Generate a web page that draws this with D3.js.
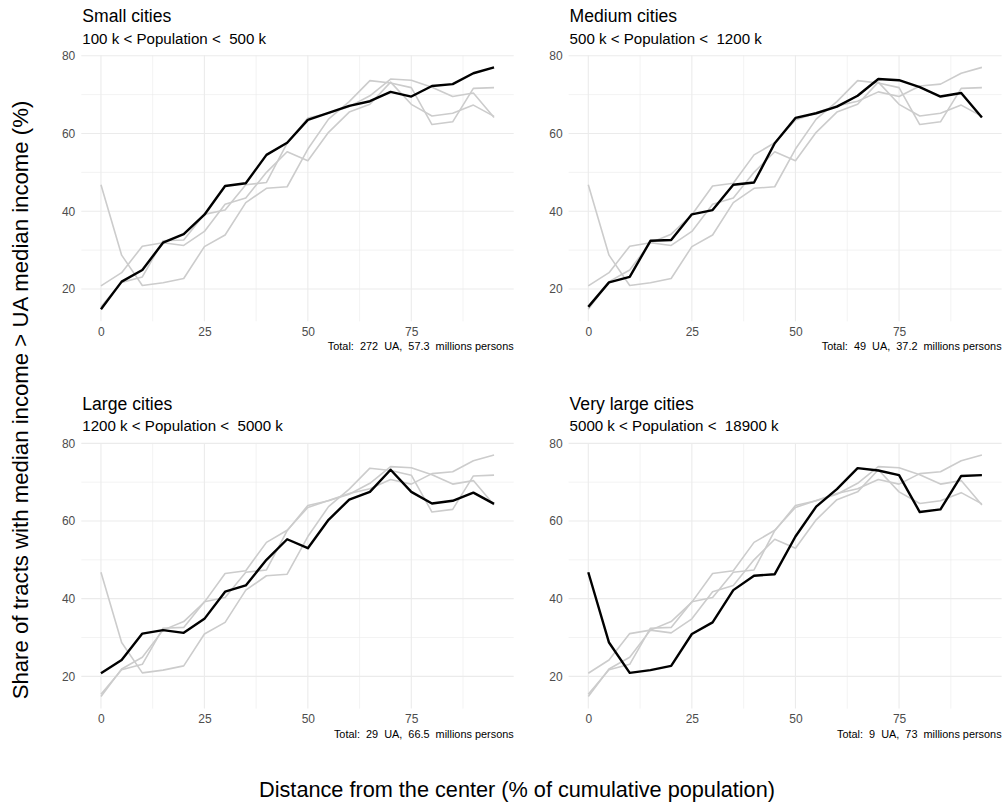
<!DOCTYPE html>
<html><head><meta charset="utf-8">
<script src="https://cdn.jsdelivr.net/npm/d3@7"></script>
<style>
body{margin:0;background:#fff;}
text{font-family:"Liberation Sans",Arial,sans-serif;white-space:pre;}
</style></head>
<body><svg id="chart" width="1004" height="805"></svg>
<script>
const distance = [0,5,10,15,20,25,30,35,40,45,50,55,60,65,70,75,80,85,90,95];
const small =    [14.8,21.9,24.9,31.9,34.1,39.1,46.5,47.2,54.5,57.6,63.5,65.3,67.1,68.3,70.7,69.5,72.2,72.7,75.5,77.0];
const medium =   [15.4,21.7,23.1,32.4,32.6,39.2,40.3,46.8,47.4,57.5,64.0,65.2,66.9,69.7,74.0,73.7,71.9,69.5,70.4,64.1];
const large =    [20.8,24.2,31.0,31.9,31.2,34.8,41.8,43.4,50.0,55.3,53.0,60.3,65.5,67.5,73.2,67.5,64.5,65.2,67.3,64.4];
const veryLarge =[46.8,28.7,20.9,21.6,22.7,30.9,33.9,42.2,45.9,46.3,56.0,63.7,68.2,73.6,73.0,71.8,62.3,63.0,71.6,71.8];
const titles = ["Small cities","Medium cities","Large cities","Very large cities"];
const subtitles = ["100 k < Population <  500 k","500 k < Population <  1200 k","1200 k < Population <  5000 k","5000 k < Population <  18900 k"];
const captions = ["Total:  272  UA,  57.3  millions persons","Total:  49  UA,  37.2  millions persons","Total:  29  UA,  66.5  millions persons","Total:  9  UA,  73  millions persons"];
const xTicks = [0,25,50,75];
const yTicks = [20,40,60,80];

const series = [small, medium, large, veryLarge];
const svg = d3.select("#chart");

const panels = [
  {x0:81.3, x1:513.7, y0:55.3, y1:321.3},
  {x0:568.6, x1:1001.6, y0:55.3, y1:321.3},
  {x0:81.3, x1:513.7, y0:442.9, y1:708.6},
  {x0:568.6, x1:1001.6, y0:442.9, y1:708.6}
];

const allY = series.flat();
const [ymin, ymax] = d3.extent(allY);
const yPad = (ymax - ymin) * 0.05;
const [xmin, xmax] = d3.extent(distance);
const xPad = (xmax - xmin) * 0.05;
const FONT = "'Liberation Sans',Arial,sans-serif";

panels.forEach((p, i) => {
  const x = d3.scaleLinear().domain([xmin - xPad, xmax + xPad]).range([p.x0, p.x1]);
  const y = d3.scaleLinear().domain([ymin - yPad, ymax + yPad]).range([p.y1, p.y0]);
  const g = svg.append("g");
  const xMinor = [12.5, 37.5, 62.5, 87.5];
  const yMinor = [30,50,70];
  g.selectAll(".vminor").data(xMinor).join("line")
    .attr("x1", d=>x(d)).attr("x2", d=>x(d)).attr("y1", p.y0).attr("y2", p.y1)
    .attr("stroke", "#ebebeb").attr("stroke-width", 0.6);
  g.selectAll(".hminor").data(yMinor).join("line")
    .attr("y1", d=>y(d)).attr("y2", d=>y(d)).attr("x1", p.x0).attr("x2", p.x1)
    .attr("stroke", "#ebebeb").attr("stroke-width", 0.6);
  g.selectAll(".vmajor").data(xTicks).join("line")
    .attr("x1", d=>x(d)).attr("x2", d=>x(d)).attr("y1", p.y0).attr("y2", p.y1)
    .attr("stroke", "#ebebeb").attr("stroke-width", 1.1);
  g.selectAll(".hmajor").data(yTicks).join("line")
    .attr("y1", d=>y(d)).attr("y2", d=>y(d)).attr("x1", p.x0).attr("x2", p.x1)
    .attr("stroke", "#ebebeb").attr("stroke-width", 1.1);

  const xAxis = g.append("g").attr("transform", `translate(0,${p.y1})`)
    .call(d3.axisBottom(x).tickValues(xTicks).tickSize(0).tickPadding(6));
  xAxis.select(".domain").remove();
  xAxis.selectAll("text").attr("fill", "#4d4d4d").style("font-size", "12px").style("font-family", FONT);
  const yAxis = g.append("g").attr("transform", `translate(${p.x0},0)`)
    .call(d3.axisLeft(y).tickValues(yTicks).tickSize(0).tickPadding(6));
  yAxis.select(".domain").remove();
  yAxis.selectAll("text").attr("fill", "#4d4d4d").style("font-size", "12px").style("font-family", FONT);

  const line = d3.line().x((d, k) => x(distance[k])).y(d => y(d));
  series.forEach((s, j) => {
    if (j === i) return;
    g.append("path").attr("d", line(s)).attr("fill", "none")
      .attr("stroke", "#cccccc").attr("stroke-width", 1.6).attr("stroke-linejoin", "round");
  });
  g.append("path").attr("d", line(series[i])).attr("fill", "none")
    .attr("stroke", "#000").attr("stroke-width", 2.4).attr("stroke-linejoin", "round");

  g.append("text").attr("x", p.x0 + 1).attr("y", p.y0 - 33).text(titles[i])
    .style("font-size", "17.6px").attr("fill", "#000");
  g.append("text").attr("x", p.x0 + 1).attr("y", p.y0 - 11.5).text(subtitles[i])
    .style("font-size", "15.1px").attr("fill", "#000");
  g.append("text").attr("x", p.x1).attr("y", p.y1 + 29).attr("text-anchor", "end")
    .text(captions[i]).style("font-size", "10.9px").attr("fill", "#000");
});

svg.append("text").attr("x", 517).attr("y", 797).attr("text-anchor", "middle")
  .text("Distance from the center (% of cumulative population)").style("font-size", "21.7px").attr("fill", "#000");
svg.append("text").attr("transform", "translate(28,400) rotate(-90)").attr("text-anchor", "middle")
  .text("Share of tracts with median income > UA median income (%)").style("font-size", "22.2px").attr("fill", "#000");
</script>
</body></html>
